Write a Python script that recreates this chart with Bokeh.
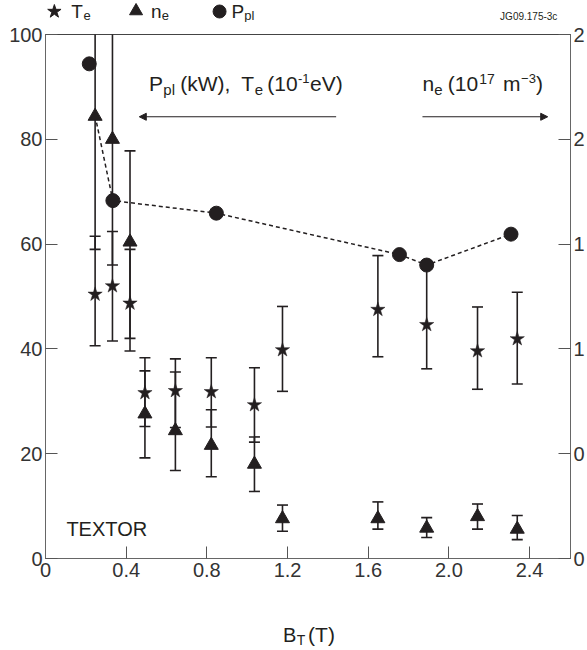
from bokeh.plotting import figure
from bokeh.layouts import column
from bokeh.models import (Range1d, LinearAxis, FixedTicker, Label, Arrow, NormalHead)
from bokeh.core.properties import value
from bokeh.embed import file_html
from bokeh.resources import INLINE

FONT = "Liberation Sans"
INK = "#231f20"

# ---- data ----
# toroidal field B_T (T) for the T_e / n_e measurements
bt = [0.246, 0.332, 0.419, 0.493, 0.644, 0.822, 1.036, 1.175, 1.648, 1.890, 2.142, 2.339]
# electron temperature in 10^-1 eV (left axis)
te = [50.4, 52.0, 48.7, 31.6, 32.0, 31.8, 29.3, 39.8, 47.5, 44.6, 39.6, 41.9]
te_lo = [40.6, 41.5, 39.6, 25.2, 25.0, 25.1, 22.2, 31.9, 38.5, 36.2, 32.3, 33.3]
te_hi = [61.5, 62.4, 59.0, 38.3, 38.1, 38.3, 36.4, 48.1, 57.8, 56.0, 48.0, 50.8]
# electron density in 10^17 m^-3 (right axis)
ne = [2.11, 2.00, 1.51, 0.69, 0.61, 0.54, 0.45, 0.19, 0.19, 0.145, 0.20, 0.14]
ne_lo = [1.475, 1.40, 1.05, 0.48, 0.42, 0.39, 0.32, 0.13, 0.14, 0.10, 0.14, 0.09]
ne_hi = [2.75, 2.60, 1.945, 0.895, 0.89, 0.71, 0.58, 0.255, 0.27, 0.195, 0.26, 0.205]
# plasma power P_pl (kW, left axis)
pl_x = [0.217, 0.334, 0.847, 1.755, 1.890, 2.308]
pl_y = [94.4, 68.3, 65.9, 58.0, 56.0, 61.9]
# dashed P_pl trend line
trend_x = [0.246, 0.334, 0.847, 1.755, 1.890, 2.308]
trend_y = [84.5, 68.3, 65.9, 58.0, 56.0, 61.9]

x_ticks = [0, 0.4, 0.8, 1.2, 1.6, 2.0, 2.4]
x_tick_labels = ["0", "0.4", "0.8", "1.2", "1.6", "2.0", "2.4"]
y_ticks = [0, 20, 40, 60, 80, 100]
ne_ticks = [0, 0.5, 1.0, 1.5, 2.0, 2.5]
ne_tick_labels = ["0", "0", "1", "1", "2", "2"]

W = 587
XR = Range1d(0, 2.603)
BL, BR = 45, 14
TOP_H = 22
BOT_H = 60

def strip(h):
    f = figure(width=W, height=h, output_backend="svg", toolbar_location=None, title=None,
               x_range=XR, y_range=Range1d(0, h), x_axis_location=None, y_axis_location=None,
               min_border_left=BL, min_border_right=BR, min_border_top=0, min_border_bottom=0)
    f.grid.visible = False
    f.outline_line_color = None
    return f

def gtxt(f, x, y, s, size):
    f.text(x=[x], y=[y], text=[s], text_font=value(FONT), text_font_size=value(f"{size}px"),
           text_align="left", text_baseline="alphabetic", text_color=INK)

# ---- top strip: legend ----
top = strip(TOP_H)
top.scatter(x=[0.044], y=[11], marker="star", size=14, fill_color=INK, line_color=INK)
gtxt(top, 0.128, 10.6, "T", 19)
gtxt(top, 0.189, 7.2, "e", 13)
top.scatter(x=[0.449], y=[11.5], marker="triangle", size=13, fill_color=INK, line_color=INK)
gtxt(top, 0.523, 10.6, "n", 19)
gtxt(top, 0.576, 7.2, "e", 13)
top.scatter(x=[0.863], y=[11], marker="circle", size=13, fill_color=INK, line_color=INK)
gtxt(top, 0.922, 10.6, "P", 19)
gtxt(top, 0.985, 7.2, "pl", 13)
gtxt(top, 2.254, 5.7, "JG09.175-3c", 10)

# ---- main plot ----
p = figure(width=W, height=650 - TOP_H - BOT_H, output_backend="svg", toolbar_location=None,
           title=None, x_range=XR, y_range=Range1d(0, 100),
           min_border_left=BL, min_border_right=BR, min_border_top=12, min_border_bottom=32)
p.extra_y_ranges = {"ne": Range1d(0, 2.5)}
p.grid.visible = False
p.outline_line_color = "#444444"

def style_axis(ax, standoff):
    ax.axis_line_color = "#666666"
    ax.major_tick_line_color = "#555555"
    ax.major_tick_in = 12
    ax.major_tick_out = 0
    ax.minor_tick_line_color = None
    ax.major_label_text_font = FONT
    ax.major_label_text_font_size = "20px"
    ax.major_label_text_color = "#333333"
    ax.major_label_standoff = standoff

xa = p.xaxis[0]
xa.ticker = FixedTicker(ticks=x_ticks)
xa.major_label_overrides = dict(zip(x_ticks, x_tick_labels))
style_axis(xa, 4)
ya = p.yaxis[0]
ya.ticker = FixedTicker(ticks=y_ticks)
style_axis(ya, 3)
ra = LinearAxis(y_range_name="ne", ticker=FixedTicker(ticks=ne_ticks))
ra.major_label_overrides = dict(zip(ne_ticks, ne_tick_labels))
style_axis(ra, 3)
p.add_layout(ra, "right")

# error bars
p.segment(x0=bt, y0=te_lo, x1=bt, y1=te_hi, line_color=INK, line_width=1.6)
p.scatter(x=bt + bt, y=te_lo + te_hi, marker="dash", size=11, line_color=INK, line_width=1.6)
p.segment(x0=bt, y0=ne_lo, x1=bt, y1=ne_hi, line_color=INK, line_width=1.6, y_range_name="ne")
p.scatter(x=bt + bt, y=ne_lo + ne_hi, marker="dash", size=11, line_color=INK, line_width=1.6,
          y_range_name="ne")

# P_pl dashed trend
p.line(trend_x, trend_y, line_color=INK, line_width=1.5, line_dash="4 3")

# markers
p.scatter(x=bt, y=ne, marker="triangle", size=14, fill_color=INK, line_color=INK,
          y_range_name="ne")
p.scatter(x=bt, y=te, marker="star", size=15, fill_color=INK, line_color=INK, line_width=0.5)
p.scatter(x=pl_x, y=pl_y, marker="circle", size=14, fill_color=INK, line_color=INK)

def txt(x, y, s, size):
    p.add_layout(Label(x=x, y=y, text=s, text_font=FONT, text_font_size=f"{size}px",
                       text_align="left", text_baseline="alphabetic", text_color=INK))

txt(0.513, 90.7, "P", 21)
txt(0.584, 89.5, "pl", 15)
txt(0.668, 90.7, "(kW),", 21)
txt(0.971, 90.7, "T", 21)
txt(1.038, 89.5, "e", 15)
txt(1.100, 90.7, "(10", 21)
txt(1.252, 91.6, "-1", 13)
txt(1.312, 90.7, "eV)", 21)

txt(1.869, 90.7, "n", 21)
txt(1.928, 89.5, "e", 15)
txt(1.995, 90.7, "(10", 21)
txt(2.150, 91.6, "17", 14)
txt(2.268, 90.7, "m", 21)
txt(2.358, 91.6, "−3", 13)
txt(2.432, 90.7, ")", 21)

p.add_layout(Arrow(x_start=1.441, y_start=84.3, x_end=0.465, y_end=84.3, line_color=INK,
                   line_width=1.2, end=NormalHead(size=7, fill_color=INK, line_color=INK)))
p.add_layout(Arrow(x_start=1.869, y_start=84.3, x_end=2.490, y_end=84.3, line_color=INK,
                   line_width=1.2, end=NormalHead(size=7, fill_color=INK, line_color=INK)))

txt(0.1036, 5.6, "TEXTOR", 20)

# ---- bottom strip: x axis title ----
bot = strip(BOT_H)
gtxt(bot, 1.178, 15.4, "B", 20)
gtxt(bot, 1.246, 10.5, "T", 14)
gtxt(bot, 1.302, 15.7, "(T)", 21)

layout = column(top, p, bot, spacing=0)
open("out.html", "w").write(file_html(layout, INLINE))
